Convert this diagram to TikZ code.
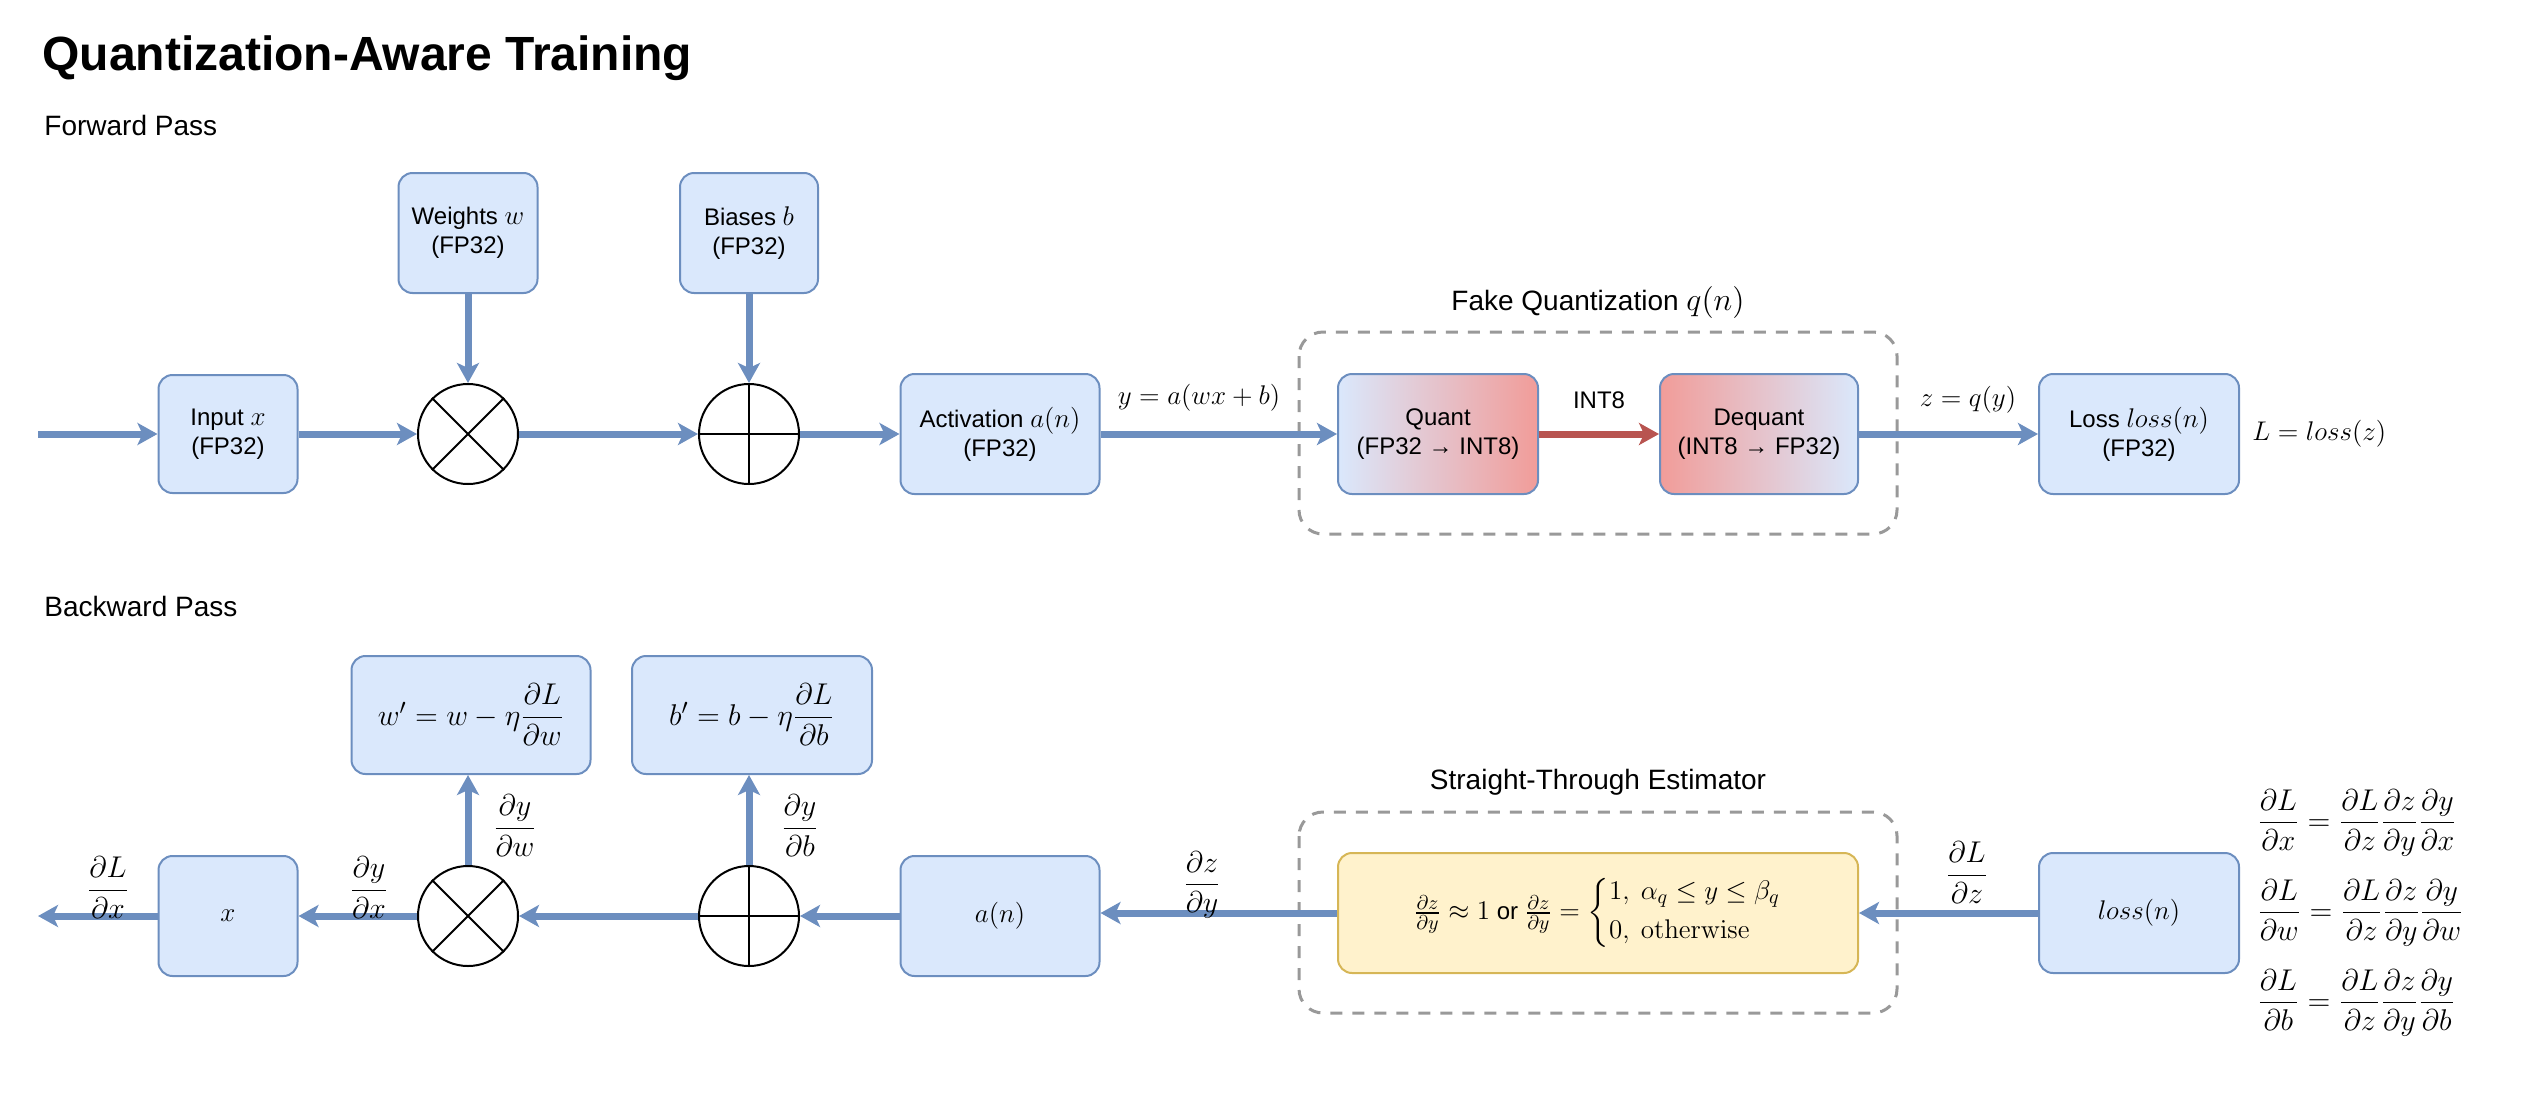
\RequirePackage{fix-cm}
\documentclass[tikz,border=0pt]{standalone}
\usepackage{amsmath}
\usepackage[no-math]{fontspec}
\setmainfont{Liberation Sans}
\DeclareMathSizes{12}{13.5}{10}{8}
\DeclareMathSizes{13}{15}{11}{9}
\DeclareMathSizes{14}{16}{12}{10}
\usetikzlibrary{arrows.meta}
\definecolor{bfill}{HTML}{DAE8FC}
\definecolor{bline}{HTML}{6C8EBF}
\definecolor{rfill}{HTML}{F19C99}
\definecolor{rline}{HTML}{B85450}
\definecolor{yfill}{HTML}{FFF2CC}
\definecolor{yline}{HTML}{D6B656}
\definecolor{dgray}{HTML}{999999}
\begin{document}
\begin{tikzpicture}[x=0.5pt,y=-0.5pt,
  box/.style={draw=bline,fill=bfill,line width=1pt,rounded corners=7pt,align=center,
    font=\fontsize{12}{14.5}\selectfont,inner sep=2pt},
  op/.style={circle,draw=black,fill=white,line width=1pt,minimum size=50pt,inner sep=0pt},
  flow/.style={draw=bline,line width=3.5pt,-{Stealth[length=10pt,width=11pt,inset=2.5pt]}},
  rflow/.style={flow,draw=rline},
  grp/.style={draw=dgray,line width=1.5pt,dash pattern=on 6pt off 5pt,rounded corners=12pt},
  lbl/.style={font=\fontsize{12}{14.5}\selectfont,inner sep=1pt},
  hdr/.style={font=\fontsize{14}{17}\selectfont,inner sep=0pt,anchor=west}]
\useasboundingbox (0,0) rectangle (2530,1092);
\node[anchor=west,inner sep=0pt,font=\fontsize{24}{29}\selectfont\bfseries] (title) at (42,58) {Quantization-Aware Training};
\node[hdr] (fp) at (44,125) {Forward Pass};
\node[hdr] (bpass) at (44,606) {Backward Pass};
% groups
\draw[grp] (1299,332) rectangle (1897,534);
\node[lbl,font=\fontsize{14}{17}\selectfont] (fqt) at (1598,302) {Fake Quantization $q(n)$};
\draw[grp] (1299,812) rectangle (1897,1013);
\node[lbl,font=\fontsize{14}{17}\selectfont] (stet) at (1598,782) {Straight-Through Estimator};
% forward nodes
\coordinate (fin) at (38,434);
\node[box,minimum width=69.5pt,minimum height=59pt] (in) at (228,434) {Input $x$\\(FP32)};
\node[box,minimum width=69.5pt,minimum height=60pt] (w) at (468,233) {Weights $w$\\(FP32)};
\node[box,minimum width=69pt,minimum height=60pt] (b) at (749,233) {Biases $b$\\(FP32)};
\node[op] (m1) at (468,434) {};
\node[op] (p1) at (749,434) {};
\node[box,minimum width=99.5pt,minimum height=60pt] (act) at (1000,434) {Activation $a(n)$\\(FP32)};
\node[box,minimum width=100pt,minimum height=60pt,fill=none,left color=bfill,right color=rfill] (q) at (1438,434) {Quant\\(FP32 → INT8)};
\node[box,minimum width=99pt,minimum height=60pt,fill=none,left color=rfill,right color=bfill] (dq) at (1759,434) {Dequant\\(INT8 → FP32)};
\node[box,minimum width=100pt,minimum height=60pt] (loss) at (2139,434) {Loss $loss(n)$\\(FP32)};
\node[lbl,anchor=west] (leq) at (2250,434) {$L = loss(z)$};
\draw[line width=1pt] (m1.north west) -- (m1.south east) (m1.north east) -- (m1.south west);
\draw[line width=1pt] (p1.north) -- (p1.south) (p1.west) -- (p1.east);
\draw[flow] (fin) -- (in);
\draw[flow] (in) -- (m1);
\draw[flow] (w) -- (m1);
\draw[flow] (m1) -- (p1);
\draw[flow] (b) -- (p1);
\draw[flow] (p1) -- (act);
\draw[flow] (act) -- (q);
\node[lbl] (ly) at (1199,398) {$y = a(wx+b)$};
\draw[rflow] (q) -- (dq);
\node[lbl] (lint) at (1599,400) {INT8};
\draw[flow] (dq) -- (loss);
\node[lbl] (lz) at (1968,400) {$z = q(y)$};
% backward nodes
\coordinate (bout) at (38,916);
\node[box,minimum width=69.5pt,minimum height=60pt] (xb) at (228,916) {$x$};
\node[op] (m2) at (468,916) {};
\node[op] (p2) at (749,916) {};
\node[box,minimum width=119.5pt,minimum height=59pt,font=\fontsize{13}{15}\selectfont] (wp) at (471,715) {$w' = w - \eta\dfrac{\partial L}{\partial w}$};
\node[box,minimum width=120pt,minimum height=59pt,font=\fontsize{13}{15}\selectfont] (bp) at (752,715) {$b' = b - \eta\dfrac{\partial L}{\partial b}$};
\node[box,minimum width=99.5pt,minimum height=60pt] (an) at (1000,916) {$a(n)$};
\node[box,draw=yline,fill=yfill,minimum width=260pt,minimum height=60pt] (ste) at (1598,913)
  {$\frac{\partial z}{\partial y}\approx 1$ or $\frac{\partial z}{\partial y} = \left\{\begin{array}{@{}l@{}}1,\ \alpha_q \le y \le \beta_q\\[5pt] 0,\ \mathrm{otherwise}\end{array}\right.$};
\node[box,minimum width=100pt,minimum height=60pt] (ln) at (2139,913) {$loss(n)$};
\draw[line width=1pt] (m2.north west) -- (m2.south east) (m2.north east) -- (m2.south west);
\draw[line width=1pt] (p2.north) -- (p2.south) (p2.west) -- (p2.east);
\draw[flow] (ln) -- (ste);
\node[lbl,font=\fontsize{13}{15}\selectfont] (ldz) at (1967,873) {$\dfrac{\partial L}{\partial z}$};
\draw[flow] (ste.west) -- (an.east |- ste.west);
\node[lbl,font=\fontsize{13}{15}\selectfont] (ldy) at (1202,885) {$\dfrac{\partial z}{\partial y}$};
\draw[flow] (an) -- (p2);
\draw[flow] (p2) -- (m2);
\draw[flow] (m2) -- (xb);
\draw[flow] (xb) -- (bout);
\draw[flow] (m2) -- (m2 |- wp.south);
\draw[flow] (p2) -- (p2 |- bp.south);
\node[lbl,font=\fontsize{13}{15}\selectfont] (ldw) at (515,826) {$\dfrac{\partial y}{\partial w}$};
\node[lbl,font=\fontsize{13}{15}\selectfont] (ldb) at (800,826) {$\dfrac{\partial y}{\partial b}$};
\node[lbl,font=\fontsize{13}{15}\selectfont] (ldx) at (369,888) {$\dfrac{\partial y}{\partial x}$};
\node[lbl,font=\fontsize{13}{15}\selectfont] (lLx) at (108,888) {$\dfrac{\partial L}{\partial x}$};
% chain rule
\node[lbl,anchor=west,font=\fontsize{13}{15}\selectfont] (e1) at (2255,823) {$\dfrac{\partial L}{\partial x} = \dfrac{\partial L}{\partial z}\dfrac{\partial z}{\partial y}\dfrac{\partial y}{\partial x}$};
\node[lbl,anchor=west,font=\fontsize{13}{15}\selectfont] (e2) at (2255,913) {$\dfrac{\partial L}{\partial w} = \dfrac{\partial L}{\partial z}\dfrac{\partial z}{\partial y}\dfrac{\partial y}{\partial w}$};
\node[lbl,anchor=west,font=\fontsize{13}{15}\selectfont] (e3) at (2255,1003) {$\dfrac{\partial L}{\partial b} = \dfrac{\partial L}{\partial z}\dfrac{\partial z}{\partial y}\dfrac{\partial y}{\partial b}$};
\end{tikzpicture}
\end{document}
